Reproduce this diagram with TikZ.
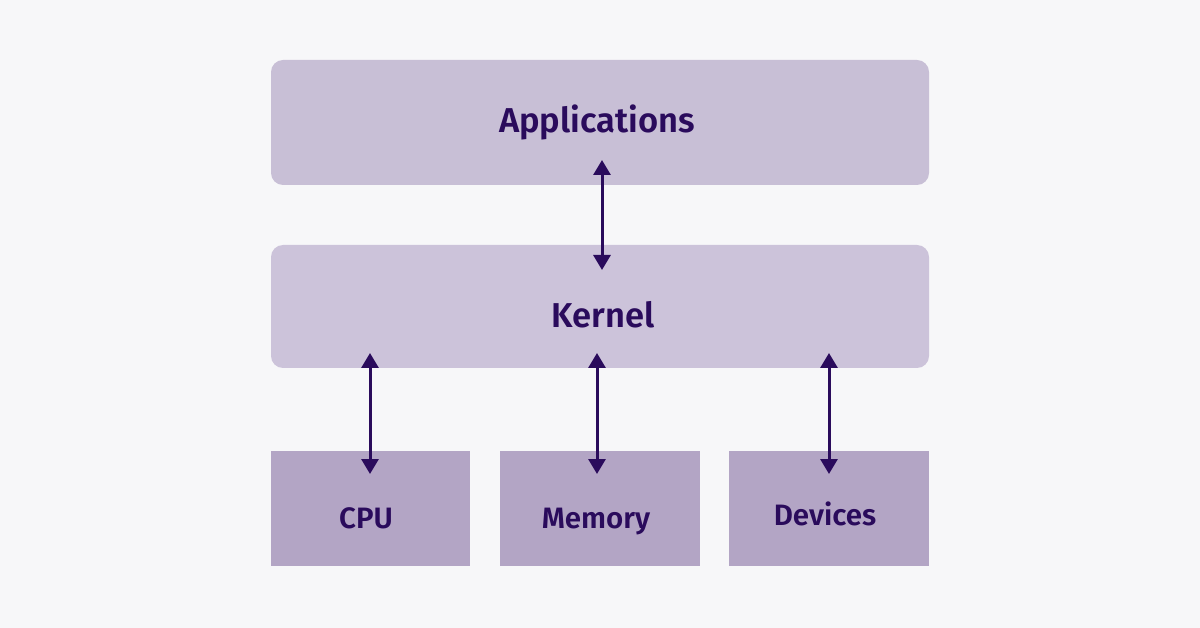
\documentclass[tikz,border=0pt]{standalone}
\usepackage{fontspec}
\setmainfont{Fira Sans}[BoldFont={Fira Sans SemiBold}]
\usetikzlibrary{arrows.meta}
\definecolor{bg}{HTML}{F7F7F9}
\definecolor{topfill}{HTML}{C8BFD6}
\definecolor{kfill}{HTML}{CCC3DA}
\definecolor{botfill}{HTML}{B3A5C5}
\definecolor{ink}{HTML}{2A0B5C}
\begin{document}
\begin{tikzpicture}[x=1pt,y=-1pt,
  layer/.style={fill=#1,rounded corners=12pt,draw=none},
  hw/.style={fill=botfill,draw=none},
  lbl/.style={text=ink,anchor=base,inner sep=0pt,font=\bfseries\fontsize{34.5}{38}\selectfont},
  slbl/.style={text=ink,anchor=base,inner sep=0pt,font=\bfseries\fontsize{29.5}{33}\selectfont},
  link/.style={draw=ink,line width=3pt,{Triangle[width=17pt,length=15pt]}-{Triangle[width=17pt,length=15pt]}}]
\fill[bg] (0,0) rectangle (1200,628);
\useasboundingbox (0,0) rectangle (1200,628);
\fill[layer=topfill] (271,60) rectangle (929,185);
\fill[layer=kfill] (271,245) rectangle (929,368);
\fill[hw] (271,451) rectangle (470,566);
\fill[hw] (500,451) rectangle (700,566);
\fill[hw] (729,451) rectangle (929,566);
\node[lbl] (app) at (597,133) {Applications};
\node[lbl] (ker) at (603,328) {Kernel};
\node[slbl] (cpu) at (366,528) {CPU};
\node[slbl] (mem) at (596,528) {Memory};
\node[slbl] (dev) at (825,525) {Devices};
\coordinate (a1) at (602,160);
\coordinate (a2) at (602,270);
\coordinate (c1) at (370,353);
\coordinate (c2) at (370,474);
\coordinate (m1) at (597,353);
\coordinate (m2) at (597,474);
\coordinate (d1) at (829,353);
\coordinate (d2) at (829,474);
\draw[link] (a1) -- (a2);
\draw[link] (c1) -- (c2);
\draw[link] (m1) -- (m2);
\draw[link] (d1) -- (d2);
\end{tikzpicture}
\end{document}
